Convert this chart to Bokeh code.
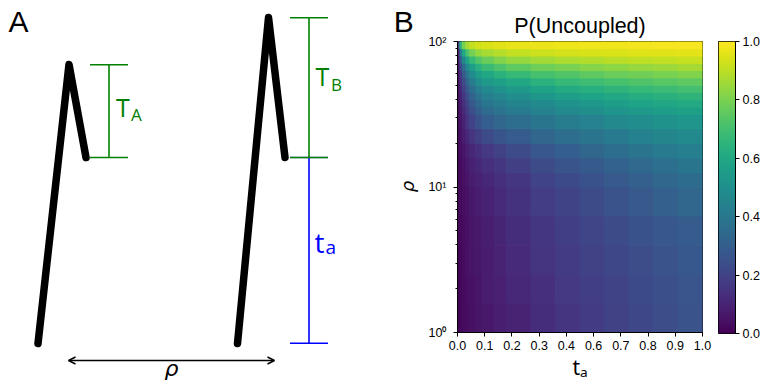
import numpy as np
from bokeh.plotting import figure
from bokeh.models import (Range1d, LinearColorMapper, FixedTicker,
                          PrintfTickFormatter, Arrow, OpenHead, ColumnDataSource)
from bokeh.layouts import row
from bokeh.palettes import Viridis256
from bokeh.core.properties import value
from bokeh.embed import file_html
from bokeh.resources import INLINE

# ---------------- Panel B data: P(Uncoupled) over (t_a, rho) ----------------
t_edges = [0, 0.01, 0.02, 0.035, 0.05, 0.075, 0.1, 0.15, 0.2, 0.3, 0.4, 0.5, 0.6, 0.7, 0.8, 0.9, 1.0]
rho_edges = [1, 1.585, 2.512, 3.981, 6.310, 10, 12.59, 15.85, 19.95, 25.12, 31.62,
             35.48, 39.81, 44.67, 50.12, 56.23, 63.10, 70.79, 79.43, 89.13, 100]
# rows: bottom (rho ~1) to top (rho ~100); columns follow t_edges cells
p_uncoupled = [
    [0.01, 0.02, 0.03, 0.035, 0.045, 0.055, 0.07, 0.085, 0.10, 0.13, 0.155, 0.175, 0.195, 0.215, 0.235, 0.255],
    [0.01, 0.02, 0.03, 0.04, 0.05, 0.06, 0.075, 0.09, 0.11, 0.14, 0.165, 0.185, 0.205, 0.225, 0.245, 0.265],
    [0.01, 0.02, 0.035, 0.045, 0.055, 0.065, 0.08, 0.10, 0.12, 0.15, 0.175, 0.195, 0.215, 0.235, 0.255, 0.275],
    [0.015, 0.025, 0.035, 0.045, 0.06, 0.07, 0.085, 0.105, 0.13, 0.16, 0.185, 0.21, 0.23, 0.25, 0.27, 0.29],
    [0.015, 0.025, 0.04, 0.05, 0.065, 0.08, 0.10, 0.12, 0.145, 0.18, 0.205, 0.23, 0.255, 0.28, 0.305, 0.33],
    [0.02, 0.03, 0.045, 0.06, 0.075, 0.09, 0.11, 0.135, 0.16, 0.20, 0.225, 0.25, 0.28, 0.305, 0.33, 0.355],
    [0.02, 0.035, 0.05, 0.07, 0.09, 0.11, 0.135, 0.16, 0.19, 0.23, 0.26, 0.285, 0.315, 0.34, 0.365, 0.39],
    [0.025, 0.04, 0.06, 0.085, 0.11, 0.14, 0.165, 0.195, 0.23, 0.27, 0.30, 0.33, 0.36, 0.385, 0.41, 0.43],
    [0.03, 0.05, 0.08, 0.11, 0.15, 0.19, 0.23, 0.26, 0.29, 0.33, 0.36, 0.385, 0.41, 0.44, 0.46, 0.48],
    [0.03, 0.06, 0.10, 0.15, 0.20, 0.25, 0.30, 0.33, 0.36, 0.39, 0.42, 0.445, 0.47, 0.49, 0.51, 0.525],
    [0.035, 0.07, 0.12, 0.18, 0.24, 0.30, 0.35, 0.38, 0.41, 0.445, 0.47, 0.495, 0.52, 0.54, 0.555, 0.57],
    [0.04, 0.08, 0.14, 0.21, 0.28, 0.34, 0.39, 0.42, 0.45, 0.48, 0.51, 0.535, 0.56, 0.58, 0.595, 0.61],
    [0.04, 0.10, 0.16, 0.24, 0.32, 0.38, 0.43, 0.46, 0.49, 0.53, 0.56, 0.58, 0.60, 0.62, 0.635, 0.65],
    [0.045, 0.12, 0.19, 0.28, 0.36, 0.43, 0.48, 0.51, 0.54, 0.58, 0.61, 0.63, 0.65, 0.67, 0.685, 0.70],
    [0.05, 0.14, 0.23, 0.33, 0.42, 0.49, 0.54, 0.57, 0.60, 0.64, 0.67, 0.69, 0.71, 0.725, 0.74, 0.75],
    [0.055, 0.17, 0.28, 0.39, 0.48, 0.55, 0.60, 0.64, 0.67, 0.71, 0.73, 0.75, 0.77, 0.785, 0.80, 0.81],
    [0.065, 0.22, 0.35, 0.47, 0.56, 0.63, 0.68, 0.72, 0.75, 0.78, 0.80, 0.82, 0.83, 0.845, 0.855, 0.865],
    [0.08, 0.30, 0.46, 0.58, 0.67, 0.73, 0.77, 0.81, 0.84, 0.86, 0.875, 0.885, 0.895, 0.905, 0.91, 0.915],
    [0.10, 0.42, 0.60, 0.72, 0.79, 0.84, 0.87, 0.89, 0.91, 0.925, 0.935, 0.94, 0.945, 0.95, 0.955, 0.96],
    [0.20, 0.65, 0.80, 0.87, 0.91, 0.93, 0.945, 0.955, 0.965, 0.97, 0.975, 0.978, 0.98, 0.983, 0.986, 0.99],
]
x_tick_labels = ["0.0", "0.1", "0.2", "0.3", "0.4", "0.6", "0.7", "0.8", "0.9", "1.0"]
y_tick_values = [1, 10, 100]
y_tick_labels = ["10\u2070", "10\u00b9", "10\u00b2"]
cbar_ticks = [0.0, 0.2, 0.4, 0.6, 0.8, 1.0]

# ---------------- Panel A schematic (diagram units) ----------------
tree_xs = [[37.5, 68.5, 85.5], [237.0, 268.0, 284.5]]
tree_ys = [[343.0, 64.0, 157.0], [343.0, 17.0, 157.0]]
bar_x = [108.5, 308.5, 308.5]
bar_top = [64.3, 17.3, 157.0]
bar_bottom = [157.0, 157.0, 342.7]
bar_colors = ["#008000", "#008000", "#0000ff"]
cap_half = 19.0
arrow_span = (68.0, 274.0, 360.0)

TICK_FONT = "Liberation Sans"
SHIFT = 0.4  # baseline correction (fraction of font size) for text rendering
H = 383
A_WIDTH = 419          # panel A canvas (also carries the "B" tag and the rho label of B)
FRAME_L, FRAME_R = 457, 702
FRAME_TOP, FRAME_BOTTOM = 41, 333


def base(y, size):
    """text baseline position corrected for the renderer's baseline offset"""
    return y - SHIFT * size


# ======================= Panel A =======================
pa = figure(width=A_WIDTH, height=H, x_range=Range1d(0, A_WIDTH), y_range=Range1d(H, 0),
            output_backend="svg", toolbar_location=None, min_border=0,
            x_axis_location=None, y_axis_location=None, frame_align=False)
pa.grid.visible = False
pa.outline_line_color = None

pa.multi_line(xs=tree_xs, ys=tree_ys, line_color="black", line_width=7.5,
              line_cap="round", line_join="round")
pa.segment(x0=bar_x, y0=bar_top, x1=bar_x, y1=bar_bottom, line_color=bar_colors, line_width=1.6)
cap_x0 = [x - cap_half for x in bar_x] * 2
cap_x1 = [x + cap_half for x in bar_x] * 2
cap_y = bar_top + bar_bottom
cap_c = bar_colors * 2
order = [3, 5, 0, 1, 2, 4]  # shared level: blue cap first, green drawn over it
pa.segment(x0=[cap_x0[i] for i in order], y0=[cap_y[i] for i in order],
           x1=[cap_x1[i] for i in order], y1=[cap_y[i] for i in order],
           line_color=[cap_c[i] for i in order], line_width=1.6,
           line_alpha=[1, 1, 1, 1, 0.55, 1])

pa.add_layout(Arrow(start=OpenHead(size=7, line_width=1.4, line_color="black"),
                    end=OpenHead(size=7, line_width=1.4, line_color="black"),
                    x_start=arrow_span[0], y_start=arrow_span[2],
                    x_end=arrow_span[1], y_end=arrow_span[2],
                    line_width=1.4, line_color="black"))

# panel tags
pa.text(x=[8, 393.3], y=[base(33.3, 30)] * 2, text=["A", "B"], text_font=value("Liberation Sans"),
        text_font_size="30px", text_baseline="alphabetic", text_color="black")
pa.text(x=[115.5, 315.0], y=[base(116.7, 25), base(85.0, 25)], text=["T", "T"],
        text_font=value("Open Sans"), text_font_size="25px", text_baseline="alphabetic",
        text_color="#008000")
pa.text(x=[130.5, 330.5], y=[base(120.7, 17), base(90.5, 17)], text=["A", "B"],
        text_font=value("Open Sans"), text_font_size="17px", text_baseline="alphabetic",
        text_color="#008000")
pa.text(x=[314.0], y=[base(252.5, 28)], text=["t"], text_font=value("Open Sans"),
        text_font_size="28px", text_baseline="alphabetic", text_color="#0000ff")
pa.text(x=[325.0], y=[base(254.3, 19)], text=["a"], text_font=value("Open Sans"),
        text_font_size="19px", text_baseline="alphabetic", text_color="#0000ff")
pa.text(x=[171], y=[base(377, 22)], text=["\u03c1"], text_font=value("DejaVu Sans"),
        text_font_style="italic", text_font_size="22px", text_align="center",
        text_baseline="alphabetic", text_color="black")
# y-axis label of panel B (rotated, reads upward)
pa.text(x=[414 - SHIFT * 18], y=[186], text=["\u03c1"], text_font=value("DejaVu Sans"),
        text_font_style="italic", text_font_size="18px", text_align="center",
        text_baseline="alphabetic", text_color="black", angle=np.pi / 2)

# ======================= Panel B =======================
pb = figure(width=712 - A_WIDTH, height=H, x_range=Range1d(0, 1), y_range=Range1d(1, 100),
            y_axis_type="log", output_backend="svg", toolbar_location=None,
            min_border_left=FRAME_L - A_WIDTH, min_border_right=712 - FRAME_R,
            min_border_top=FRAME_TOP, min_border_bottom=H - FRAME_BOTTOM, frame_align=False)
pb.grid.visible = False
pb.outline_line_color = "black"
pb.outline_line_width = 1

mapper = LinearColorMapper(palette=Viridis256, low=0, high=1)
left, right, bottom, top, vals = [], [], [], [], []
for i in range(len(rho_edges) - 1):
    for j in range(len(t_edges) - 1):
        left.append(t_edges[j]); right.append(t_edges[j + 1])
        bottom.append(rho_edges[i]); top.append(rho_edges[i + 1])
        vals.append(p_uncoupled[i][j])
src = ColumnDataSource(dict(left=left, right=right, bottom=bottom, top=top, v=vals))
pb.quad(left="left", right="right", bottom="bottom", top="top", source=src,
        fill_color={"field": "v", "transform": mapper},
        line_color={"field": "v", "transform": mapper}, line_width=1)

pb.title.text = "P(Uncoupled)"
pb.title.align = "center"
pb.title.text_font = "Liberation Sans"
pb.title.text_font_size = "21.5px"
pb.title.text_font_style = "normal"
pb.title.text_color = "black"
pb.title.standoff = 7

x_ticks = [i / (len(x_tick_labels) - 1) for i in range(len(x_tick_labels))]
pb.xaxis.ticker = FixedTicker(ticks=x_ticks, minor_ticks=[])
pb.xaxis.major_label_overrides = {t: lab for t, lab in zip(x_ticks, x_tick_labels)}
pb.yaxis.ticker = FixedTicker(ticks=y_tick_values,
                              minor_ticks=[m * d for d in (1, 10) for m in range(2, 10)])
pb.yaxis.major_label_overrides = {t: lab for t, lab in zip(y_tick_values, y_tick_labels)}
for ax in (pb.xaxis[0], pb.yaxis[0]):
    ax.major_tick_in = 0
    ax.major_tick_out = 4
    ax.minor_tick_in = 0
    ax.minor_tick_out = 2
    ax.major_tick_line_color = "black"
    ax.minor_tick_line_color = "black"
    ax.axis_line_color = "black"
    ax.major_label_text_font = TICK_FONT
    ax.major_label_text_font_size = "12.5px"
    ax.major_label_text_color = "black"
pb.xaxis.major_label_standoff = 4
pb.yaxis.major_label_standoff = 7
pb.xaxis.axis_label = "t\u2090"
pb.xaxis.axis_label_text_font = "Noto Sans"
pb.xaxis.axis_label_text_font_style = "normal"
pb.xaxis.axis_label_text_font_size = "21px"
pb.xaxis.axis_label_text_color = "black"
pb.xaxis.axis_label_standoff = 0

# ======================= Colour bar =======================
pc = figure(width=50, height=H, x_range=Range1d(0, 1), y_range=Range1d(0, 1),
            output_backend="svg", toolbar_location=None, frame_align=False,
            min_border_left=6, min_border_right=26, min_border_top=FRAME_TOP,
            min_border_bottom=H - FRAME_BOTTOM,
            x_axis_location=None, y_axis_location="right")
pc.grid.visible = False
pc.outline_line_color = "black"
pc.outline_line_width = 1
levels = np.linspace(0, 1, 256).reshape(256, 1)
pc.image(image=[levels], x=0, y=0, dw=1, dh=1, color_mapper=mapper)
pc.yaxis.ticker = FixedTicker(ticks=cbar_ticks, minor_ticks=[])
pc.yaxis.formatter = PrintfTickFormatter(format="%.1f")
pc.yaxis.major_tick_in = 0
pc.yaxis.major_tick_out = 4
pc.yaxis.major_tick_line_color = "black"
pc.yaxis.axis_line_color = "black"
pc.yaxis.major_label_standoff = 3
pc.yaxis.major_label_text_font = TICK_FONT
pc.yaxis.major_label_text_font_size = "12.5px"
pc.yaxis.major_label_text_color = "black"

layout = row(pa, pb, pc)
open("out.html", "w").write(file_html(layout, INLINE))
